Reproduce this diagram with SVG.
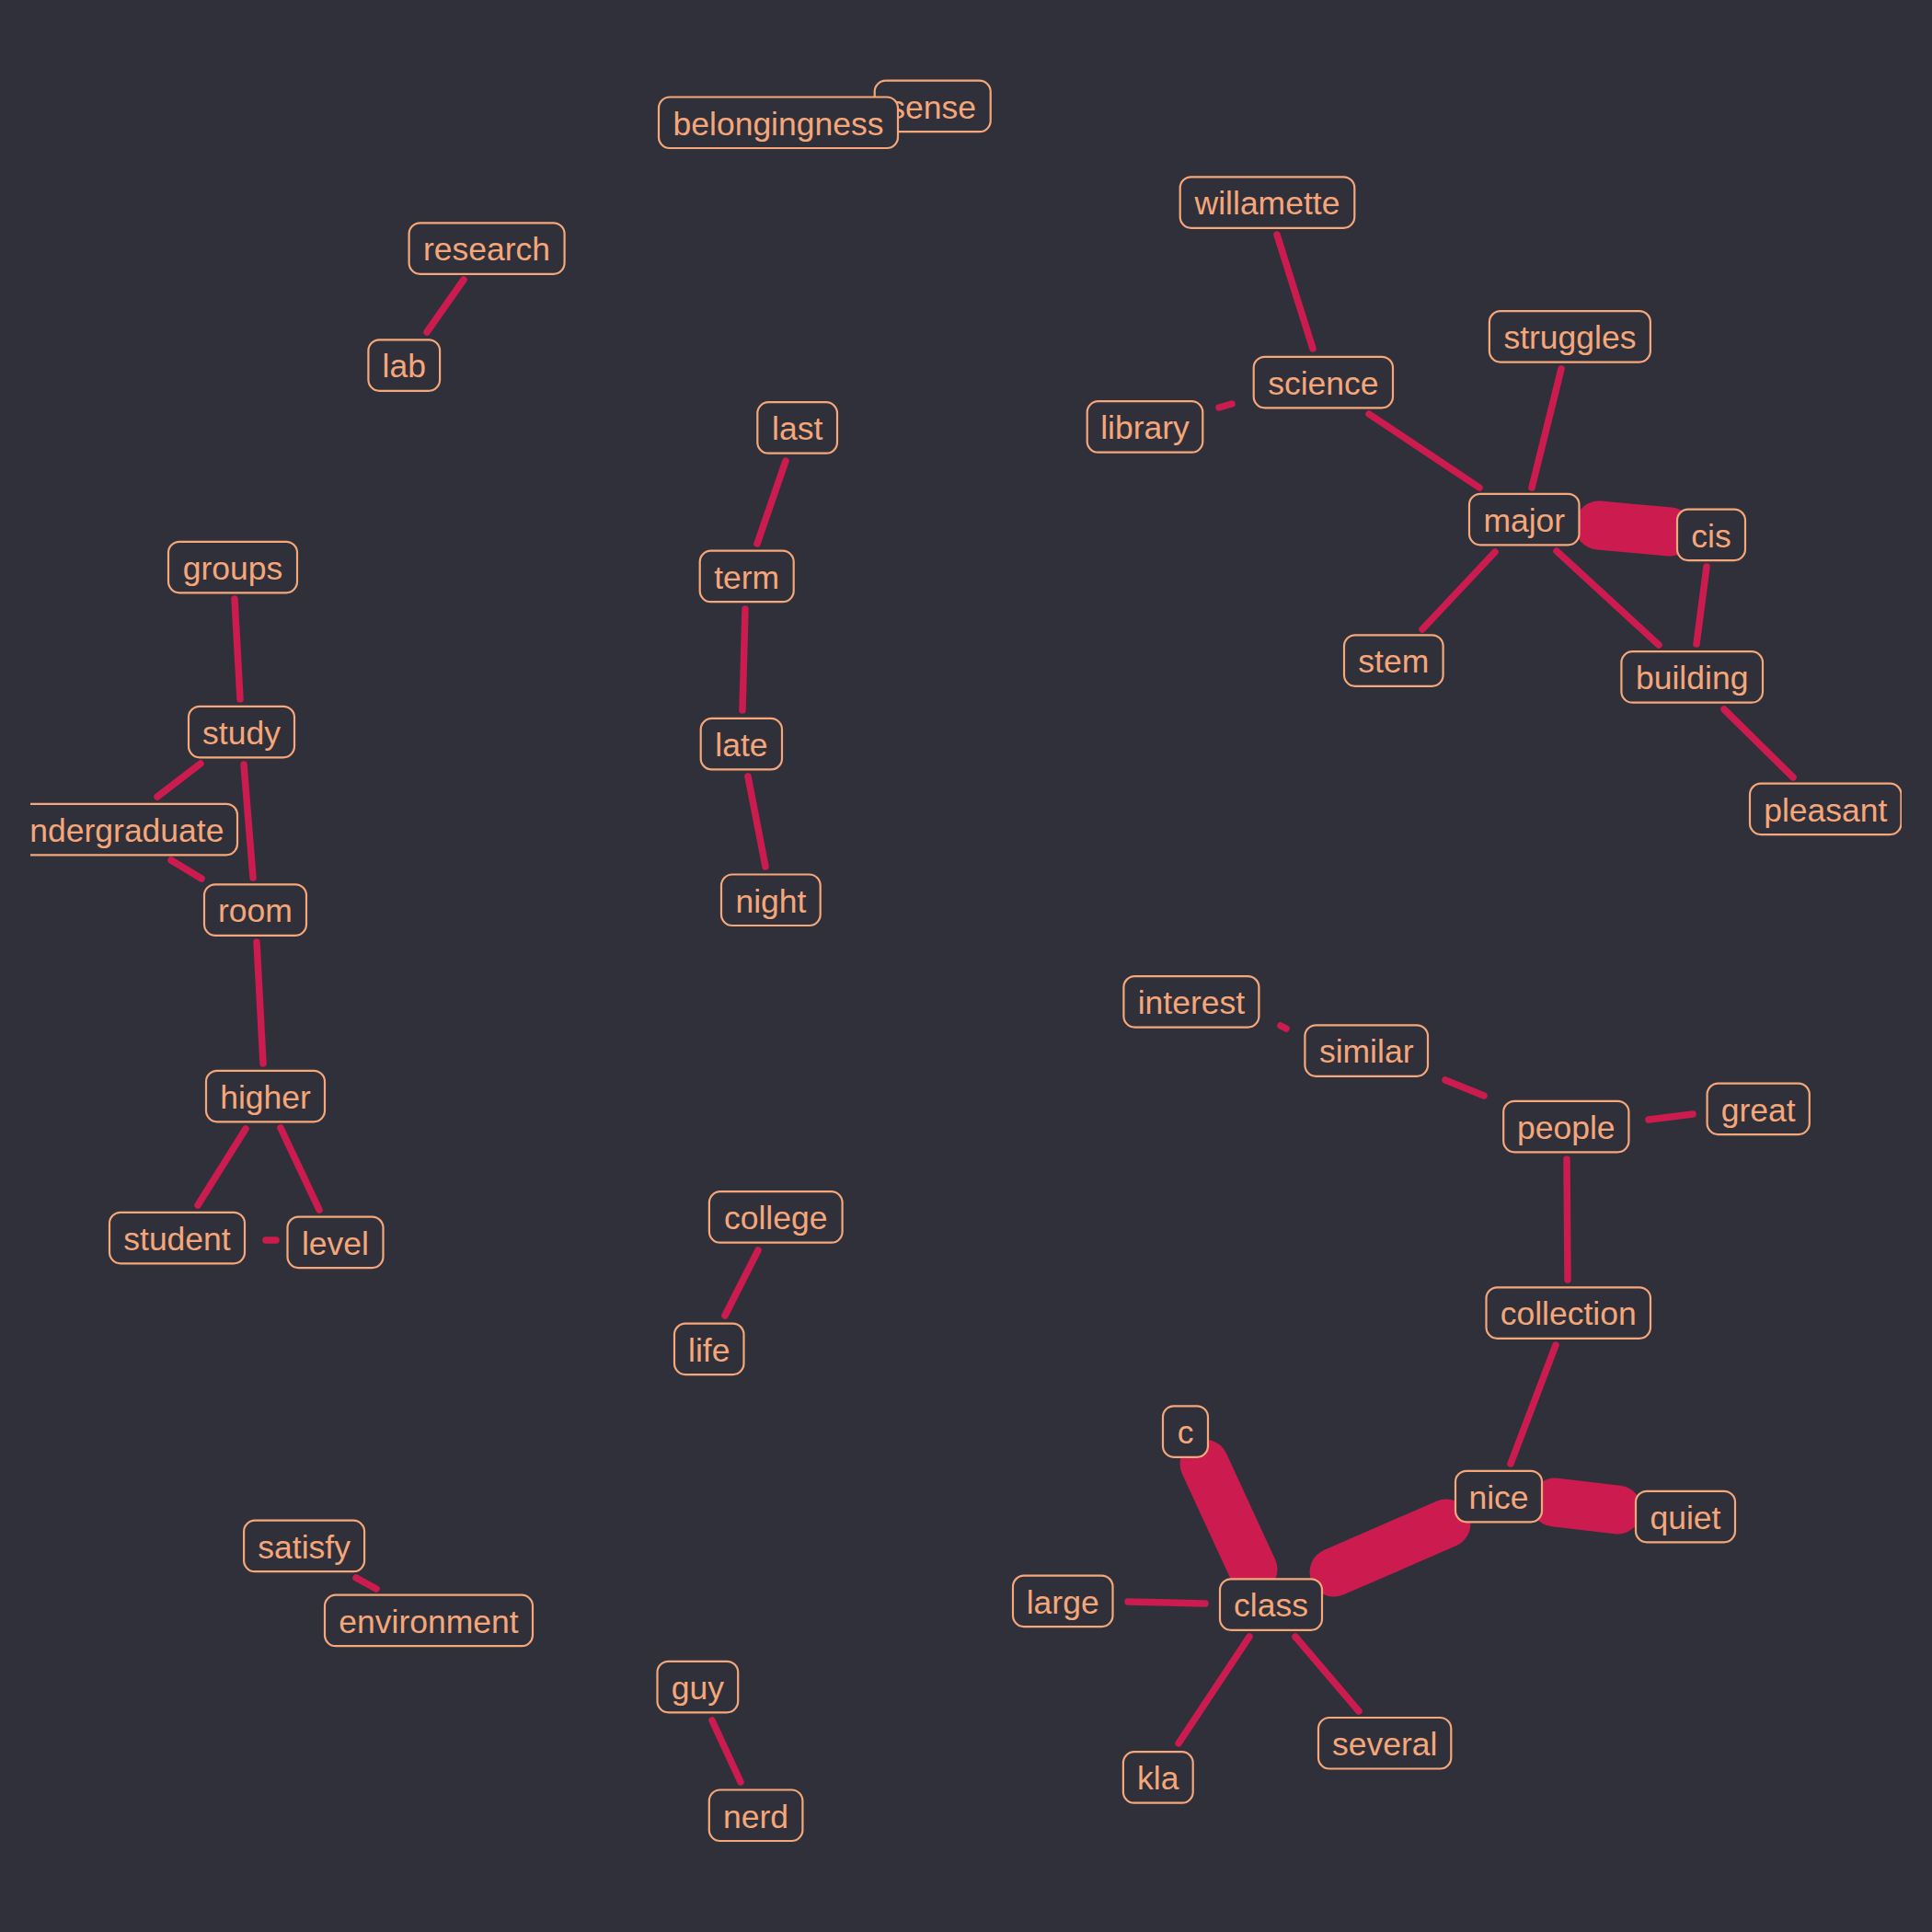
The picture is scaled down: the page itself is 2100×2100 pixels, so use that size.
<svg xmlns="http://www.w3.org/2000/svg" width="2100" height="2100" viewBox="0 0 2100 2100">
<defs>
<clipPath id="panel"><rect x="33" y="33" width="2034" height="2034"/></clipPath>
<style>
.bg{fill:#30303b}
.e{stroke:#cb1b4f;stroke-width:7.5;stroke-linecap:round;fill:none}
.t{stroke:#cb1b4f;stroke-width:53;stroke-linecap:round;fill:none}
.n rect{fill:#30303b;stroke:#f5a77a;stroke-width:2.2}
.n text{fill:#f5a77a;font-family:"Liberation Sans",Arial,sans-serif;font-size:35.5px;text-anchor:middle}
</style>
</defs>
<rect class="bg" x="0" y="0" width="2100" height="2100"/>
<g clip-path="url(#panel)">
<g id="edges">
<line class="e" x1="504" y1="304" x2="464" y2="361"/>
<line class="e" x1="854" y1="501" x2="823" y2="591"/>
<line class="e" x1="810" y1="662" x2="807" y2="772"/>
<line class="e" x1="813" y1="844" x2="832" y2="942"/>
<line class="e" x1="255" y1="651" x2="261" y2="760"/>
<line class="e" x1="218" y1="830" x2="171" y2="866"/>
<line class="e" x1="186" y1="935" x2="219" y2="955"/>
<line class="e" x1="265" y1="831" x2="275" y2="954"/>
<line class="e" x1="279" y1="1024" x2="286" y2="1156"/>
<line class="e" x1="267" y1="1227" x2="215" y2="1310"/>
<line class="e" x1="305" y1="1226" x2="347" y2="1315"/>
<line class="e" x1="289" y1="1348" x2="300" y2="1348"/>
<line class="e" x1="824" y1="1359" x2="788" y2="1430"/>
<line class="e" x1="387" y1="1715" x2="409" y2="1727"/>
<line class="e" x1="774" y1="1870" x2="805" y2="1937"/>
<line class="e" x1="1388" y1="255" x2="1427" y2="379"/>
<line class="e" x1="1325" y1="443" x2="1339" y2="439"/>
<line class="e" x1="1488" y1="450" x2="1608" y2="530"/>
<line class="e" x1="1697" y1="401" x2="1665" y2="530"/>
<line class="e" x1="1625" y1="600" x2="1546" y2="684"/>
<line class="e" x1="1692" y1="599" x2="1803" y2="701"/>
<line class="e" x1="1855" y1="616" x2="1844" y2="700"/>
<line class="e" x1="1874" y1="771" x2="1949" y2="845"/>
<line class="e" x1="1392" y1="1115" x2="1398" y2="1118"/>
<line class="e" x1="1571" y1="1174" x2="1613" y2="1191"/>
<line class="e" x1="1792" y1="1217" x2="1840" y2="1211"/>
<line class="e" x1="1703" y1="1260" x2="1704" y2="1391"/>
<line class="e" x1="1691" y1="1462" x2="1642" y2="1591"/>
<line class="e" x1="1226" y1="1741" x2="1310" y2="1743"/>
<line class="e" x1="1358" y1="1779" x2="1281" y2="1895"/>
<line class="e" x1="1408" y1="1779" x2="1477" y2="1860"/>
<line class="t" x1="1738" y1="571" x2="1815" y2="578"/>
<line class="t" x1="1690" y1="1633" x2="1758" y2="1641"/>
<line class="t" x1="1450" y1="1709" x2="1572" y2="1656"/>
<line class="t" x1="1309" y1="1591" x2="1362" y2="1706"/>
</g>
<g id="node-sense" class="n"><rect x="950.7" y="87.7" width="126" height="55.5" rx="12"/><text x="1013.7" y="128.5">sense</text></g>
<g id="node-belongingness" class="n"><rect x="716" y="105.5" width="260" height="55.5" rx="12"/><text x="846" y="146.5">belongingness</text></g>
<g id="node-research" class="n"><rect x="444.6" y="242.3" width="169" height="55.5" rx="12"/><text x="529" y="283.3">research</text></g>
<g id="node-lab" class="n"><rect x="400.4" y="369.3" width="77.7" height="55.5" rx="12"/><text x="439.3" y="410.3">lab</text></g>
<g id="node-last" class="n"><rect x="823.3" y="437.2" width="86.7" height="55.5" rx="12"/><text x="866.7" y="478.3">last</text></g>
<g id="node-term" class="n"><rect x="760.7" y="598.7" width="102" height="55.5" rx="12"/><text x="811.7" y="639.8">term</text></g>
<g id="node-late" class="n"><rect x="761.7" y="780.9" width="88.3" height="55.5" rx="12"/><text x="805.9" y="822">late</text></g>
<g id="node-night" class="n"><rect x="784" y="950.5" width="107.7" height="55.5" rx="12"/><text x="837.9" y="991.5">night</text></g>
<g id="node-groups" class="n"><rect x="183" y="588.8" width="140" height="55.5" rx="12"/><text x="253" y="629.8">groups</text></g>
<g id="node-study" class="n"><rect x="205" y="767.8" width="115" height="55.5" rx="12"/><text x="262.5" y="808.8">study</text></g>
<g id="node-undergraduate" class="n"><rect x="-2" y="873.8" width="260" height="55.5" rx="12"/><text x="128" y="914.8">undergraduate</text></g>
<g id="node-room" class="n"><rect x="222" y="961.3" width="111" height="55.5" rx="12"/><text x="277.5" y="1002.3">room</text></g>
<g id="node-higher" class="n"><rect x="224" y="1163.8" width="129" height="55.5" rx="12"/><text x="288.5" y="1204.8">higher</text></g>
<g id="node-student" class="n"><rect x="119" y="1317.8" width="147" height="55.5" rx="12"/><text x="192.5" y="1358.8">student</text></g>
<g id="node-level" class="n"><rect x="312.5" y="1322.6" width="104" height="55.5" rx="12"/><text x="364.5" y="1363.6">level</text></g>
<g id="node-college" class="n"><rect x="770.9" y="1295.2" width="144.7" height="55.5" rx="12"/><text x="843.2" y="1336.2">college</text></g>
<g id="node-life" class="n"><rect x="733" y="1438.6" width="75.5" height="55.5" rx="12"/><text x="770.7" y="1479.6">life</text></g>
<g id="node-satisfy" class="n"><rect x="265.1" y="1652.7" width="131" height="55.5" rx="12"/><text x="330.6" y="1693.7">satisfy</text></g>
<g id="node-environment" class="n"><rect x="353" y="1733.7" width="226" height="55.5" rx="12"/><text x="466" y="1774.7">environment</text></g>
<g id="node-guy" class="n"><rect x="714.5" y="1805.8" width="87.7" height="55.5" rx="12"/><text x="758.4" y="1846.8">guy</text></g>
<g id="node-nerd" class="n"><rect x="770.8" y="1945.5" width="101.6" height="55.5" rx="12"/><text x="821.6" y="1986.5">nerd</text></g>
<g id="node-willamette" class="n"><rect x="1282.7" y="192.3" width="189.6" height="55.5" rx="12"/><text x="1377.5" y="233.3">willamette</text></g>
<g id="node-science" class="n"><rect x="1362.7" y="387.8" width="151.3" height="55.5" rx="12"/><text x="1438.4" y="428.8">science</text></g>
<g id="node-library" class="n"><rect x="1181.7" y="436.2" width="125.6" height="55.5" rx="12"/><text x="1244.5" y="477.2">library</text></g>
<g id="node-struggles" class="n"><rect x="1618.9" y="338.1" width="175" height="55.5" rx="12"/><text x="1706.4" y="379.1">struggles</text></g>
<g id="node-major" class="n"><rect x="1597" y="536.8" width="119.5" height="55.5" rx="12"/><text x="1656.8" y="577.8">major</text></g>
<g id="node-cis" class="n"><rect x="1823" y="553.6" width="74" height="55.5" rx="12"/><text x="1860" y="594.6">cis</text></g>
<g id="node-stem" class="n"><rect x="1461" y="690.3" width="107.6" height="55.5" rx="12"/><text x="1514.8" y="731.3">stem</text></g>
<g id="node-building" class="n"><rect x="1762.4" y="708.2" width="153.6" height="55.5" rx="12"/><text x="1839.2" y="749.2">building</text></g>
<g id="node-pleasant" class="n"><rect x="1902" y="851.6" width="164.5" height="55.5" rx="12"/><text x="1984.3" y="892.6">pleasant</text></g>
<g id="node-interest" class="n"><rect x="1221.4" y="1061.1" width="147" height="55.5" rx="12"/><text x="1294.9" y="1102.1">interest</text></g>
<g id="node-similar" class="n"><rect x="1418.4" y="1114.3" width="133.6" height="55.5" rx="12"/><text x="1485.2" y="1155.3">similar</text></g>
<g id="node-people" class="n"><rect x="1634.2" y="1196.8" width="136.2" height="55.5" rx="12"/><text x="1702.3" y="1237.8">people</text></g>
<g id="node-great" class="n"><rect x="1855.6" y="1177.6" width="111.2" height="55.5" rx="12"/><text x="1911.2" y="1218.6">great</text></g>
<g id="node-collection" class="n"><rect x="1615.5" y="1399.3" width="178.5" height="55.5" rx="12"/><text x="1704.7" y="1440.3">collection</text></g>
<g id="node-quiet" class="n"><rect x="1778" y="1620.8" width="108" height="55.5" rx="12"/><text x="1832" y="1661.8">quiet</text></g>
<g id="node-nice" class="n"><rect x="1582" y="1598.8" width="94" height="55.5" rx="12"/><text x="1629" y="1639.8">nice</text></g>
<g id="node-c" class="n"><rect x="1264" y="1528.3" width="49" height="55.5" rx="12"/><text x="1288.5" y="1569.3">c</text></g>
<g id="node-large" class="n"><rect x="1101" y="1712.6" width="108.5" height="55.5" rx="12"/><text x="1155.2" y="1753.6">large</text></g>
<g id="node-class" class="n"><rect x="1326" y="1716.3" width="111" height="55.5" rx="12"/><text x="1381.5" y="1757.3">class</text></g>
<g id="node-several" class="n"><rect x="1433" y="1867" width="144.3" height="55.5" rx="12"/><text x="1505.2" y="1908.1">several</text></g>
<g id="node-kla" class="n"><rect x="1220.9" y="1904.2" width="75.8" height="55.5" rx="12"/><text x="1258.8" y="1945.2">kla</text></g>
</g>
</svg>
